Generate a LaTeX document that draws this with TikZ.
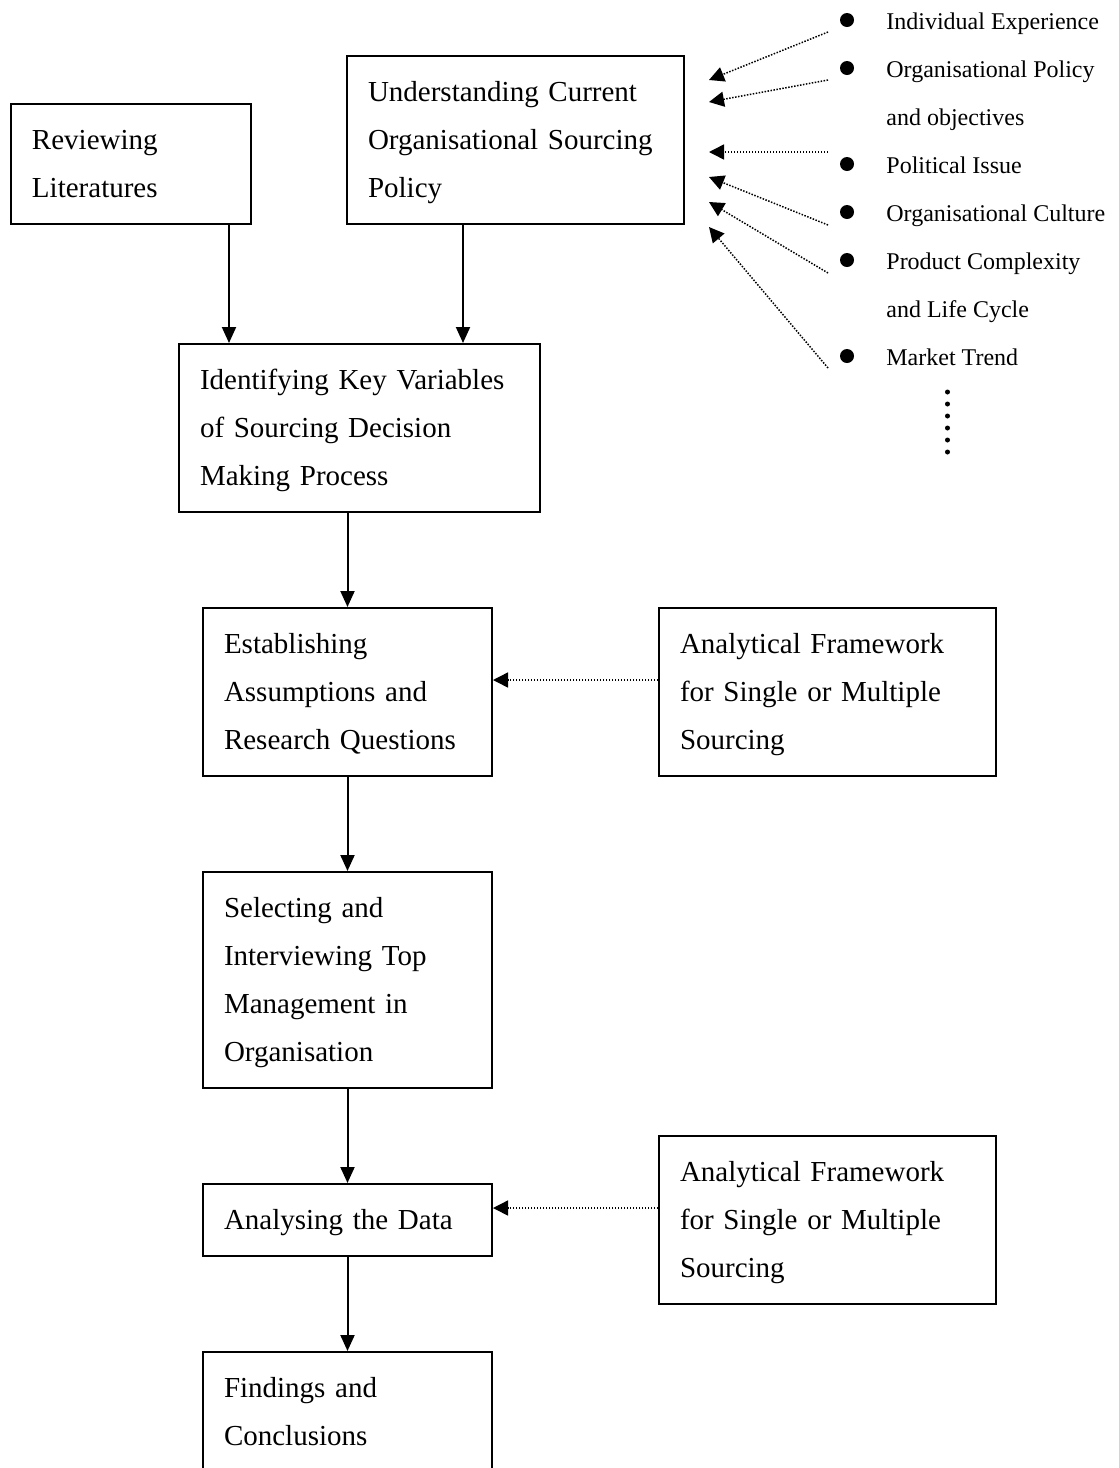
\documentclass[tikz,border=0pt]{standalone}
\usepackage{fontspec}
\setmainfont{Liberation Serif}
\usetikzlibrary{arrows.meta}
\newcommand{\boxfont}{\fontsize{14.5}{24}\selectfont}
\newcommand{\itemfont}{\fontsize{12}{24}\selectfont}

\begin{document}
\begin{tikzpicture}[x=0.5pt, y=-0.5pt,
    stepbox/.style={draw, line width=1pt, align=left, inner xsep=10.5pt, inner ysep=0pt, font=\boxfont,
        execute at begin node={\rule{0pt}{12.5pt}}, execute at end node={\rule[-3.5pt]{0pt}{0pt}}},
    flow/.style={-{Triangle[length=8pt, width=7pt]}, line width=1pt},
    hint/.style={-{Triangle[length=7.5pt, width=7.5pt]}, line width=0.75pt, dash pattern=on 0.75pt off 0.75pt},
    dot/.style={circle, fill, inner sep=0pt, minimum size=7pt},
    factor/.style={anchor=base west, inner sep=0pt, font=\itemfont}]
    \useasboundingbox (0, 0) rectangle (1119, 1468);
    \clip (0, 0) rectangle (1119, 1468);

    \node[stepbox, text width=99pt, minimum height=60pt] (rev) at (131, 164) {Reviewing\\Literatures};
    \node[stepbox, text width=147.5pt, minimum height=84pt] (und) at (515.5, 140) {Understanding Current\\Organisational Sourcing\\Policy};
    \node[stepbox, text width=159.5pt, minimum height=84pt] (ident) at (359.5, 428) {Identifying Key Variables\\of Sourcing Decision\\Making Process};
    \node[stepbox, text width=123.5pt, minimum height=84pt] (est) at (347.5, 692) {Establishing\\Assumptions and\\Research Questions};
    \node[stepbox, text width=147.5pt, minimum height=84pt] (frame1) at (827.5, 692) {Analytical Framework\\for Single or Multiple\\Sourcing};
    \node[stepbox, text width=123.5pt, minimum height=108pt] (sel) at (347.5, 980) {Selecting and\\Interviewing Top\\Management in\\Organisation};
    \node[stepbox, text width=123.5pt, minimum height=36pt] (ana) at (347.5, 1220) {Analysing the Data};
    \node[stepbox, text width=147.5pt, minimum height=84pt] (frame2) at (827.5, 1220) {Analytical Framework\\for Single or Multiple\\Sourcing};
    \node[stepbox, text width=123.5pt, minimum height=60pt] (find) at (347.5, 1412) {Findings and\\Conclusions};

    \foreach \n/\y in {1/20, 2/68, 3/164, 4/212, 5/260, 6/356}
        \node[dot] (dot\n) at (847, \y) {};
    \node[factor] (f1) at (886, 29) {Individual Experience};
    \node[factor] (f2) at (886, 77) {Organisational Policy};
    \node[factor] (f2b) at (886, 125) {and objectives};
    \node[factor] (f3) at (886, 173) {Political Issue};
    \node[factor] (f4) at (886, 221) {Organisational Culture};
    \node[factor] (f5) at (886, 269) {Product Complexity};
    \node[factor] (f5b) at (886, 317) {and Life Cycle};
    \node[factor] (f6) at (886, 365) {Market Trend};
    \foreach \y in {392, 404, ..., 452}
        \fill (947.5, \y) circle[radius=2.5];

    \draw[flow] ([xshift=-11.5pt]rev.south east) -- ([xshift=-11.5pt]rev.south east |- ident.north);
    \draw[flow] ([xshift=58.5pt]und.south west) -- ([xshift=58.5pt]und.south west |- ident.north);
    \draw[flow] (est.north |- ident.south) -- (est.north);
    \draw[flow] (est.south) -- (sel.north);
    \draw[flow] (sel.south) -- (ana.north);
    \draw[flow] (ana.south) -- (find.north);
    \draw[hint] ([yshift=6pt]frame1.west) -- ([yshift=6pt]frame1.west -| est.east);
    \draw[hint] ([yshift=6pt]frame2.west) -- ([yshift=6pt]frame2.west -| ana.east);

    \foreach \n/\ty/\hy in {1/32/80, 2/80/102, 3/152/152, 4/225/177, 5/273/202, 6/368/227} {
        \coordinate (src\n) at (828, \ty);
        \coordinate (tip\n) at (709, \hy);
        \draw[hint] (src\n) -- (tip\n);
    }
\end{tikzpicture}
\end{document}
